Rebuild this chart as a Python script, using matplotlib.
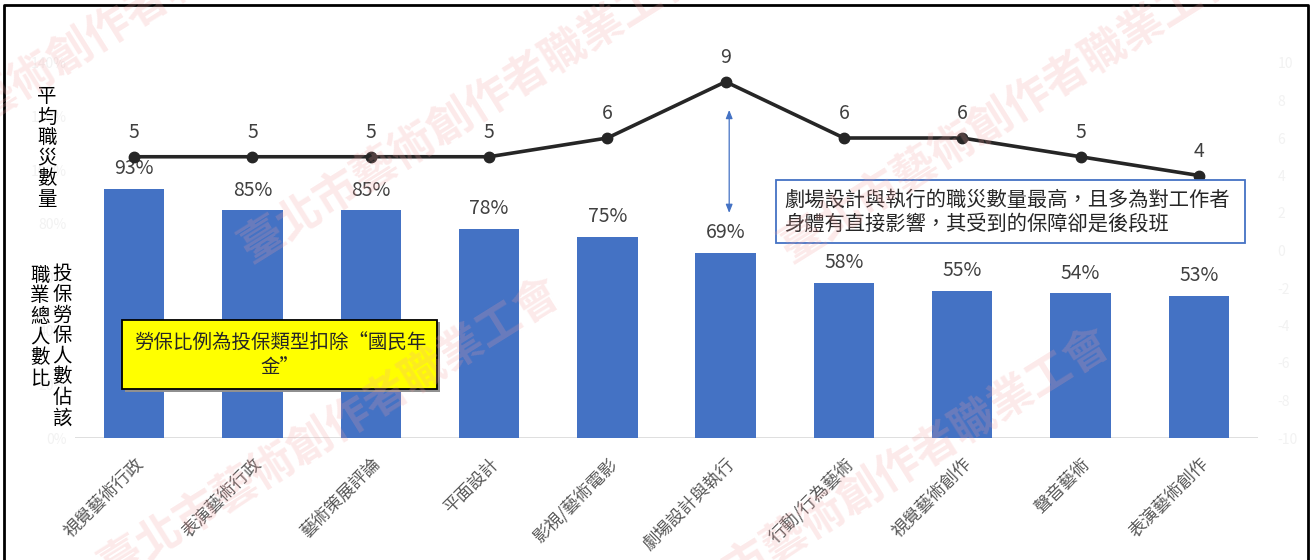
import matplotlib
matplotlib.use("Agg")
import matplotlib.pyplot as plt
import matplotlib.patches as mpatches

plt.rcParams['font.family'] = ['Noto Sans CJK TC', 'DejaVu Sans']

# datos
categorias = ["視覺藝術行政", "表演藝術行政", "藝術策展評論", "平面設計", "影視/藝術電影",
              "劇場設計與執行", "行動/行為藝術", "視覺藝術創作", "聲音藝術", "表演藝術創作"]
porcentaje = [0.93, 0.85, 0.85, 0.78, 0.75, 0.69, 0.58, 0.55, 0.54, 0.53]
zhizai = [5, 5, 5, 5, 6, 9, 6, 6, 5, 4]
ticks_izq = [0, 0.2, 0.4, 0.6, 0.8, 1.0, 1.2, 1.4]
ticks_der = [-10, -8, -6, -4, -2, 0, 2, 4, 6, 8, 10]

W, H = 1313, 560
fig = plt.figure(figsize=(W / 100, H / 100), dpi=100)

def fx(px):
    return px / W

def fy(py):
    return 1 - py / H

ax = fig.add_axes([fx(75), fy(438), fx(1258) - fx(75), fy(63) - fy(438)])
x = list(range(len(categorias)))
barras = ax.bar(x, porcentaje, width=0.51, color="#4472C4", zorder=2)
ax.set_xlim(-0.5, len(categorias) - 0.5)
ax.set_ylim(0, 1.4)
ax.set_yticks(ticks_izq)
ax.set_yticklabels([f"{int(round(t * 100))}%" for t in ticks_izq], color="#f2f2f2", fontsize=10)
ax.axhline(0, color="#d9d9d9", lw=1.2, zorder=1)
for s in ax.spines.values():
    s.set_visible(False)
ax.tick_params(length=0, pad=6)
ax.set_xticks(x)
ax.set_xticklabels(categorias, rotation=45, ha="right", rotation_mode="anchor",
                   fontsize=12.5, color="#595959")
ax.tick_params(axis="x", pad=12)

for xi, p in zip(x, porcentaje):
    ax.annotate(f"{int(round(p * 100))}%", (xi, p), xytext=(0, 7), textcoords="offset points",
                ha="center", va="bottom", fontsize=14, color="#404040")

ax2 = ax.twinx()
ax2.plot(x, zhizai, color="#262626", lw=2.6, marker="o", ms=7.5, zorder=3)
ax2.set_ylim(-10, 10)
ax2.set_yticks(ticks_der)
ax2.set_yticklabels([str(t) for t in ticks_der], color="#f2f2f2", fontsize=10)
for s in ax2.spines.values():
    s.set_visible(False)
ax2.tick_params(length=0, pad=14)
for xi, v in zip(x, zhizai):
    ax2.annotate(str(v), (xi, v), xytext=(0, 10), textcoords="offset points",
                 ha="center", va="bottom", fontsize=14, color="#404040")

# flecha doble
ax.annotate("", xy=(5.03, 1.235), xytext=(5.03, 0.83),
            arrowprops=dict(arrowstyle="<|-|>,head_length=0.5,head_width=0.2",
                            color="#4472C4", lw=0.9))

# cuadro azul
fig.patches.append(mpatches.Rectangle((fx(776), fy(243)), fx(1245) - fx(776), fy(180) - fy(243),
                                      transform=fig.transFigure, facecolor="white",
                                      edgecolor="#4472C4", lw=1.3, zorder=5))
fig.text(fx(784), fy(212), "劇場設計與執行的職災數量最高，且多為對工作者\n身體有直接影響，其受到的保障卻是後段班",
         fontsize=14.6, color="#262626", va="center", ha="left", linespacing=1.2, zorder=6)

# cuadro amarillo
fig.patches.append(mpatches.Rectangle((fx(125), fy(392)), fx(440) - fx(125), fy(322) - fy(392),
                                      transform=fig.transFigure, facecolor="#909090",
                                      edgecolor="none", zorder=4))
fig.patches.append(mpatches.Rectangle((fx(122), fy(389)), fx(437) - fx(122), fy(320) - fy(389),
                                      transform=fig.transFigure, facecolor="#FFFF00",
                                      edgecolor="black", lw=1.3, zorder=5))
fig.text(fx(280), fy(355), "勞保比例為投保類型扣除“國民年\n金”", fontsize=14, color="#262626",
         va="center", ha="center", linespacing=1.2, zorder=6)

# titulos de ejes verticales
fig.text(fx(47), fy(148), "\n".join("平均職災數量"), fontsize=14, ha="center", va="center",
         linespacing=0.98, color="black")
fig.text(fx(62), fy(346), "\n".join("投保勞保人數佔該"), fontsize=14, ha="center", va="center",
         linespacing=0.98, color="black")
fig.text(fx(40), fy(327), "\n".join("職業總人數比"), fontsize=14, ha="center", va="center",
         linespacing=0.98, color="black")

# marca de agua
marca = "臺北市藝術創作者職業工會"
for (px, py) in [(90, 40), (470, 110), (1010, 110), (330, 430), (880, 480)]:
    fig.text(fx(px), fy(py), marca, fontsize=32, fontweight="bold", color="#f4a0a0", alpha=0.22,
             rotation=32, ha="center", va="center", zorder=7)

# borde
fig.add_artist(plt.Line2D([fx(4), fx(4), fx(1308), fx(1308)], [0, fy(5), fy(5), 0],
                          transform=fig.transFigure, color="black", lw=2))

fig.savefig("out.png", dpi=100)
